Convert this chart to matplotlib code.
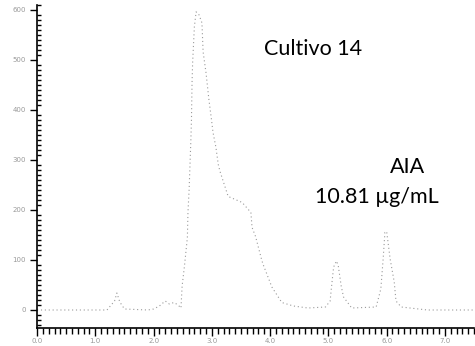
import matplotlib.pyplot as plt
import numpy as np
from matplotlib.ticker import MultipleLocator

# retention time (min) and detector signal
time_min = [
    0.0, 0.34, 0.77, 1.2, 1.33, 1.37, 1.42, 1.5, 1.9, 2.0, 2.1, 2.2, 2.27,
    2.35, 2.42, 2.47, 2.49, 2.53, 2.58, 2.59, 2.61, 2.64, 2.65, 2.66, 2.67,
    2.70, 2.73, 2.78, 2.83, 2.85, 2.90, 2.95, 2.99, 3.02, 3.07, 3.11, 3.14,
    3.28, 3.52, 3.67, 3.69, 3.75, 3.86, 3.89, 3.93, 4.03, 4.2, 4.4, 4.65,
    4.95, 5.03, 5.05, 5.09, 5.14, 5.17, 5.22, 5.26, 5.4, 5.82, 5.90, 5.94,
    5.97, 6.0, 6.06, 6.13, 6.16, 6.25, 6.7, 7.5,
]
signal = [
    0, 0, 0, 0, 18, 34, 16, 2, 0, 2, 8, 18, 12,
    15, 10, 4, 48, 88, 145, 195, 241, 340, 380, 454, 494,
    566, 596, 590, 574, 516, 474, 420, 384, 355, 325, 291, 277,
    227, 215, 195, 165, 147, 98, 88, 76, 46, 15, 8, 4,
    6, 18, 42, 86, 98, 88, 48, 26, 4, 6, 42, 102,
    155, 157, 102, 56, 18, 6, 0, 0,
]

y_ticks = [0, 100, 200, 300, 400, 500, 600]
x_ticks = [0.0, 1.0, 2.0, 3.0, 4.0, 5.0, 6.0, 7.0]

fig = plt.figure(figsize=(4.75, 3.46), dpi=100)
ax = fig.add_axes([0.078, 0.052, 0.92, 0.934])

ax.plot(time_min, signal, color="#9a9a9a", lw=0.8, ls=(0, (1, 2.5)))

ax.set_xlim(0, 7.5)
ax.set_ylim(-36, 610)

ax.spines["top"].set_visible(False)
ax.spines["right"].set_visible(False)
ax.spines["left"].set_linewidth(1.2)
ax.spines["bottom"].set_linewidth(1.2)

ax.set_xticks(x_ticks)
ax.set_xticklabels([f"{x:.1f}" for x in x_ticks])
ax.xaxis.set_minor_locator(MultipleLocator(0.1))
ax.set_yticks(y_ticks)
ax.set_yticklabels([str(v) for v in y_ticks])
ax.yaxis.set_minor_locator(MultipleLocator(10))

ax.tick_params(axis="x", which="major", direction="out", length=6, width=1, labelsize=5, labelcolor="#999999", pad=1)
ax.tick_params(axis="x", which="minor", direction="out", length=4, width=1)
ax.tick_params(axis="y", which="major", direction="out", length=5, width=1, labelsize=5, labelcolor="#999999", pad=3)
ax.tick_params(axis="y", which="minor", direction="in", length=3, width=1)

font = ["Lato", "DejaVu Sans"]
ax.text(0.659, 0.841, "Cultivo 14", transform=fig.transFigure, ha="center", va="baseline",
        fontsize=15.5, family=font)
ax.text(0.858, 0.500, "AIA", transform=fig.transFigure, ha="center", va="baseline",
        fontsize=15.5, family=font)
ax.text(0.793, 0.413, "10.81 µg/mL", transform=fig.transFigure, ha="center", va="baseline",
        fontsize=15.5, family=font)

fig.savefig("out.png", dpi=100)
